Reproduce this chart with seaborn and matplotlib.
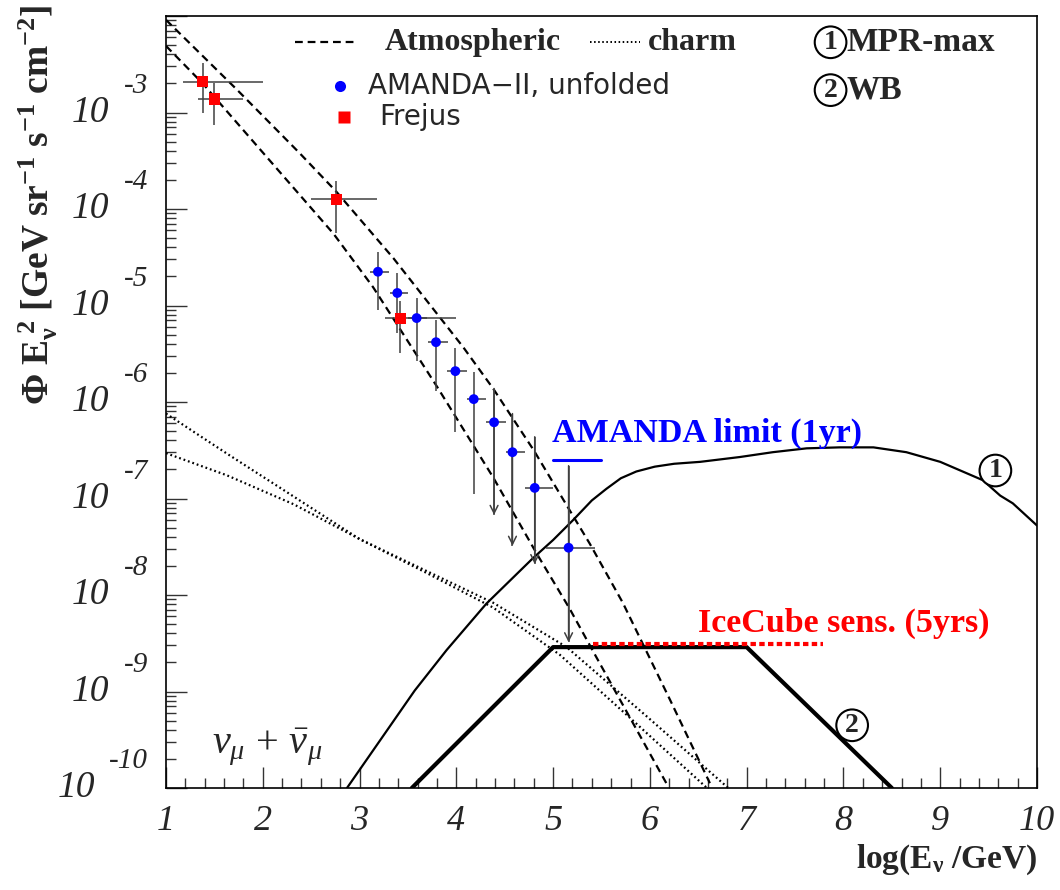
import numpy as np
import pandas as pd
import matplotlib
matplotlib.use('Agg')
import matplotlib.pyplot as plt
import matplotlib.transforms as mtransforms
from matplotlib.ticker import MultipleLocator, LogLocator, NullFormatter
import seaborn as sns

# all fluxes are stored as log10(Phi E^2), energies as log10(E/GeV)

# atmospheric band (dashed)
atm_hi_x = [1.0, 1.73, 2.38, 2.76, 3.35, 4.07, 4.38, 4.80, 5.17, 5.38, 5.72, 6.21, 6.62]
atm_hi_y = [-2.04, -2.76, -3.42, -3.82, -4.51, -5.43, -5.86, -6.50, -7.12, -7.47, -8.08, -9.09, -9.95]
atm_lo_x = [1.0, 1.38, 2.73, 3.14, 3.80, 4.38, 4.83, 5.17, 5.45, 6.17]
atm_lo_y = [-2.31, -2.70, -4.255, -4.81, -5.84, -6.78, -7.57, -8.14, -8.65, -9.95]

# charm (dotted)
charm_a_x = [1.0, 1.63, 2.32, 3.0, 3.69, 4.38, 5.07, 5.78, 6.59]
charm_a_y = [-6.12, -6.535, -6.98, -7.42, -7.77, -8.13, -8.62, -9.26, -10.0]
charm_b_x = [1.0, 1.63, 2.32, 3.0, 3.69, 4.38, 5.14, 5.97, 6.81]
charm_b_y = [-6.53, -6.76, -7.06, -7.42, -7.75, -8.08, -8.54, -9.26, -10.0]

# model 1: MPR-max
mpr_x = [2.87, 3.57, 3.90, 4.31, 4.79, 5.0, 5.21, 5.40, 5.55, 5.70, 5.86, 6.05, 6.25, 6.52, 6.93, 7.27,
         7.62, 7.96, 8.31, 8.65, 9.0, 9.44, 9.62, 9.75, 10.0]
mpr_y = [-10.0, -8.99, -8.57, -8.09, -7.62, -7.43, -7.22, -7.02, -6.90, -6.79, -6.72, -6.67, -6.64, -6.62,
         -6.57, -6.52, -6.48, -6.47, -6.47, -6.52, -6.62, -6.81, -6.97, -7.05, -7.28]

# model 2: WB bound
wb_x = [3.54, 5.0, 7.0, 8.5]
wb_y = [-10.0, -8.54, -8.54, -10.0]

# IceCube sensitivity and AMANDA 1yr limit
icecube_x = [5.41, 7.79]
icecube_y = [-8.51, -8.51]
amanda_lim_x = [5.0, 5.5]
amanda_lim_y = [-6.60, -6.60]

# Frejus
frejus_x = [1.38, 1.50, 2.76, 3.42]
frejus_y = [-2.68, -2.86, -3.90, -5.13]
frejus_xlo = [1.18, 1.33, 2.50, 3.26]
frejus_xhi = [2.00, 1.80, 3.18, 4.00]
frejus_ylo = [-3.00, -3.13, -4.25, -5.49]
frejus_yhi = [-2.49, -2.69, -3.71, -4.95]

# AMANDA-II unfolded
amanda_x = [3.19, 3.39, 3.59, 3.79, 3.99, 4.18, 4.39, 4.58, 4.81, 5.16]
amanda_y = [-4.65, -4.87, -5.13, -5.38, -5.68, -5.97, -6.21, -6.52, -6.89, -7.51]
amanda_xlo = [3.11, 3.31, 3.50, 3.71, 3.90, 4.11, 4.31, 4.51, 4.71, 4.93]
amanda_xhi = [3.30, 3.50, 3.70, 3.91, 4.11, 4.31, 4.51, 4.71, 5.00, 5.43]
amanda_ylo = [-5.05, -5.29, -5.57, -5.89, -6.31, -6.95, -7.17, -7.49, -7.68, -8.49]
amanda_yhi = [-4.45, -4.66, -4.92, -5.15, -5.44, -5.69, -5.86, -6.12, -6.36, -6.66]
amanda_uplim = [False, False, False, False, False, False, True, True, True, True]

xtick_labels = ['1', '2', '3', '4', '5', '6', '7', '8', '9', '10']
ytick_exps = [-10, -9, -8, -7, -6, -5, -4, -3]

sns.set_style('white')
plt.rcParams['font.family'] = ['Liberation Serif', 'DejaVu Sans']
plt.rcParams['mathtext.fontset'] = 'custom'
plt.rcParams['mathtext.rm'] = 'Liberation Serif'
plt.rcParams['mathtext.it'] = 'Liberation Serif:italic'
plt.rcParams['mathtext.bf'] = 'Liberation Serif:bold'

fig = plt.figure(figsize=(10.6, 8.9), dpi=100)
ax = fig.add_axes([0.1566, 0.1146, 0.8217, 0.8674])


def curve(x, logy, **kw):
    df = pd.DataFrame({'E': x, 'flux': np.power(10.0, logy)})
    sns.lineplot(data=df, x='E', y='flux', ax=ax, sort=False, estimator=None, **kw)


dashed = (0, (3.5, 2.2))
dotted = (0, (0.8, 1.3))
curve(atm_hi_x, atm_hi_y, color='black', lw=1.6, linestyle=dashed)
curve(atm_lo_x, atm_lo_y, color='black', lw=1.6, linestyle=dashed)
curve(charm_a_x, charm_a_y, color='black', lw=1.6, linestyle=dotted)
curve(charm_b_x, charm_b_y, color='black', lw=1.6, linestyle=dotted)
curve(mpr_x, mpr_y, color='black', lw=1.6)
curve(wb_x, wb_y, color='black', lw=3.0)
curve(icecube_x, icecube_y, color='red', lw=3.0, linestyle=(0, (1.3, 0.8)))
curve(amanda_lim_x, amanda_lim_y, color='blue', lw=2.2)

# error bars
for px, py, xlo, xhi, ylo, yhi in [(frejus_x, frejus_y, frejus_xlo, frejus_xhi, frejus_ylo, frejus_yhi),
                                   (amanda_x, amanda_y, amanda_xlo, amanda_xhi, amanda_ylo, amanda_yhi)]:
    x = np.array(px)
    y = np.power(10.0, py)
    ax.errorbar(x, y,
                xerr=[x - np.array(xlo), np.array(xhi) - x],
                yerr=[y - np.power(10.0, ylo), np.power(10.0, yhi) - y],
                fmt='none', ecolor='0.25', elinewidth=1.1, capsize=0, zorder=3)

for x, ylo, yhi, lim in zip(amanda_x, amanda_ylo, amanda_yhi, amanda_uplim):
    if lim:
        ax.annotate('', xy=(x, 10 ** ylo), xytext=(x, 10 ** yhi),
                    arrowprops=dict(arrowstyle='->', color='0.25', lw=1.1,
                                    mutation_scale=14, shrinkA=0, shrinkB=0), zorder=3)

sns.scatterplot(x=amanda_x, y=np.power(10.0, amanda_y), ax=ax, color='blue', marker='o',
                s=50, edgecolor='none', zorder=5)
sns.scatterplot(x=frejus_x, y=np.power(10.0, frejus_y), ax=ax, color='red', marker='s',
                s=64, edgecolor='none', zorder=5)

ax.set_yscale('log')
ax.set_xlim(1, 10)
ax.set_ylim(1e-10, 1e-2)

ax.set_xticks(range(1, 11), labels=xtick_labels, fontstyle='italic', fontsize=26)
ax.xaxis.set_minor_locator(MultipleLocator(0.2))
ax.yaxis.set_major_locator(LogLocator(base=10, numticks=20))
ax.yaxis.set_minor_locator(LogLocator(base=10, subs=np.arange(2, 10), numticks=20))
ax.yaxis.set_major_formatter(NullFormatter())
ax.yaxis.set_minor_formatter(NullFormatter())
ax.tick_params(which='both', direction='in', left=True, bottom=True, top=False, right=False,
               width=1.0, color='0.2')
ax.tick_params(which='major', length=15)
ax.tick_params(which='minor', length=7.5)
ax.tick_params(axis='x', pad=12)
for s in ax.spines.values():
    s.set_color('black')
    s.set_linewidth(1.2)

# ROOT-like y tick labels: "10" with a raised exponent
blend = mtransforms.blended_transform_factory(ax.transAxes, ax.transData)
for e in ytick_exps:
    ex = ax.annotate(str(e), xy=(0, 10.0 ** e), xycoords=blend, xytext=(-18, 27),
                     textcoords='offset pixels', ha='right', va='center',
                     fontsize=21, fontstyle='italic')
    ax.annotate('10', xy=(0, 0.5), xycoords=ex, xytext=(-14, -27),
                textcoords='offset pixels', ha='right', va='center',
                fontsize=27, fontstyle='italic')

ax.set_ylabel(r'$\mathbf{\Phi\ E_{\nu}^{\ 2}\ [GeV\ sr^{-1}\ s^{-1}\ cm^{-2}]}$', fontsize=27, loc='top')
ax.yaxis.set_label_coords(-0.122, 1.015)
ax.set_xlabel(r'$\mathbf{log(E_{\nu}\ /GeV)}$', fontsize=24, loc='right')
ax.xaxis.set_label_coords(1.0, -0.07)

# legend drawn ROOT style
ax.plot([0.148, 0.219], [0.966, 0.966], transform=ax.transAxes, color='black', lw=1.6, linestyle=dashed)
ax.text(0.2514, 0.966, 'Atmospheric', transform=ax.transAxes, fontsize=23, weight='bold', va='center')
ax.plot([0.487, 0.544], [0.966, 0.966], transform=ax.transAxes, color='black', lw=1.4, linestyle=dotted)
ax.text(0.553, 0.966, 'charm', transform=ax.transAxes, fontsize=23, weight='bold', va='center')
ax.plot([0.2], [0.909], transform=ax.transAxes, marker='o', ms=8, color='blue', mec='none')
ax.text(0.232, 0.909, 'AMANDA\u2212II, unfolded', transform=ax.transAxes, fontsize=20,
        family='DejaVu Sans', va='center')
ax.plot([0.2044], [0.869], transform=ax.transAxes, marker='s', ms=9, color='red', mec='none')
ax.text(0.2445, 0.869, 'Frejus', transform=ax.transAxes, fontsize=20, family='DejaVu Sans', va='center')

circ = dict(boxstyle='circle,pad=0.12', fc='white', ec='black', lw=1.5)
ax.text(0.763, 0.966, '1', transform=ax.transAxes, fontsize=20, weight='bold', ha='center', va='center', bbox=circ)
ax.text(0.781, 0.966, 'MPR-max', transform=ax.transAxes, fontsize=24, weight='bold', va='center')
ax.text(0.763, 0.904, '2', transform=ax.transAxes, fontsize=20, weight='bold', ha='center', va='center', bbox=circ)
ax.text(0.781, 0.904, 'WB', transform=ax.transAxes, fontsize=24, weight='bold', va='center')

# labels on the curves
ax.text(9.57, 10 ** -6.71, '1', fontsize=20, weight='bold', ha='center', va='center', bbox=circ, zorder=6)
ax.text(8.09, 10 ** -9.35, '2', fontsize=20, weight='bold', ha='center', va='center', bbox=circ, zorder=6)
ax.text(4.99, 10 ** -6.33, 'AMANDA limit (1yr)', fontsize=24.5, weight='bold', color='blue', va='center')
ax.text(6.5, 10 ** -8.29, 'IceCube sens. (5yrs)', fontsize=24.5, weight='bold', color='red', va='center')
ax.text(2.05, 10 ** -9.57, r'$\nu_{\mu}\, +\, \bar{\nu}_{\mu}$', fontsize=29, ha='center', va='center')

fig.savefig('out.png', dpi=100)
